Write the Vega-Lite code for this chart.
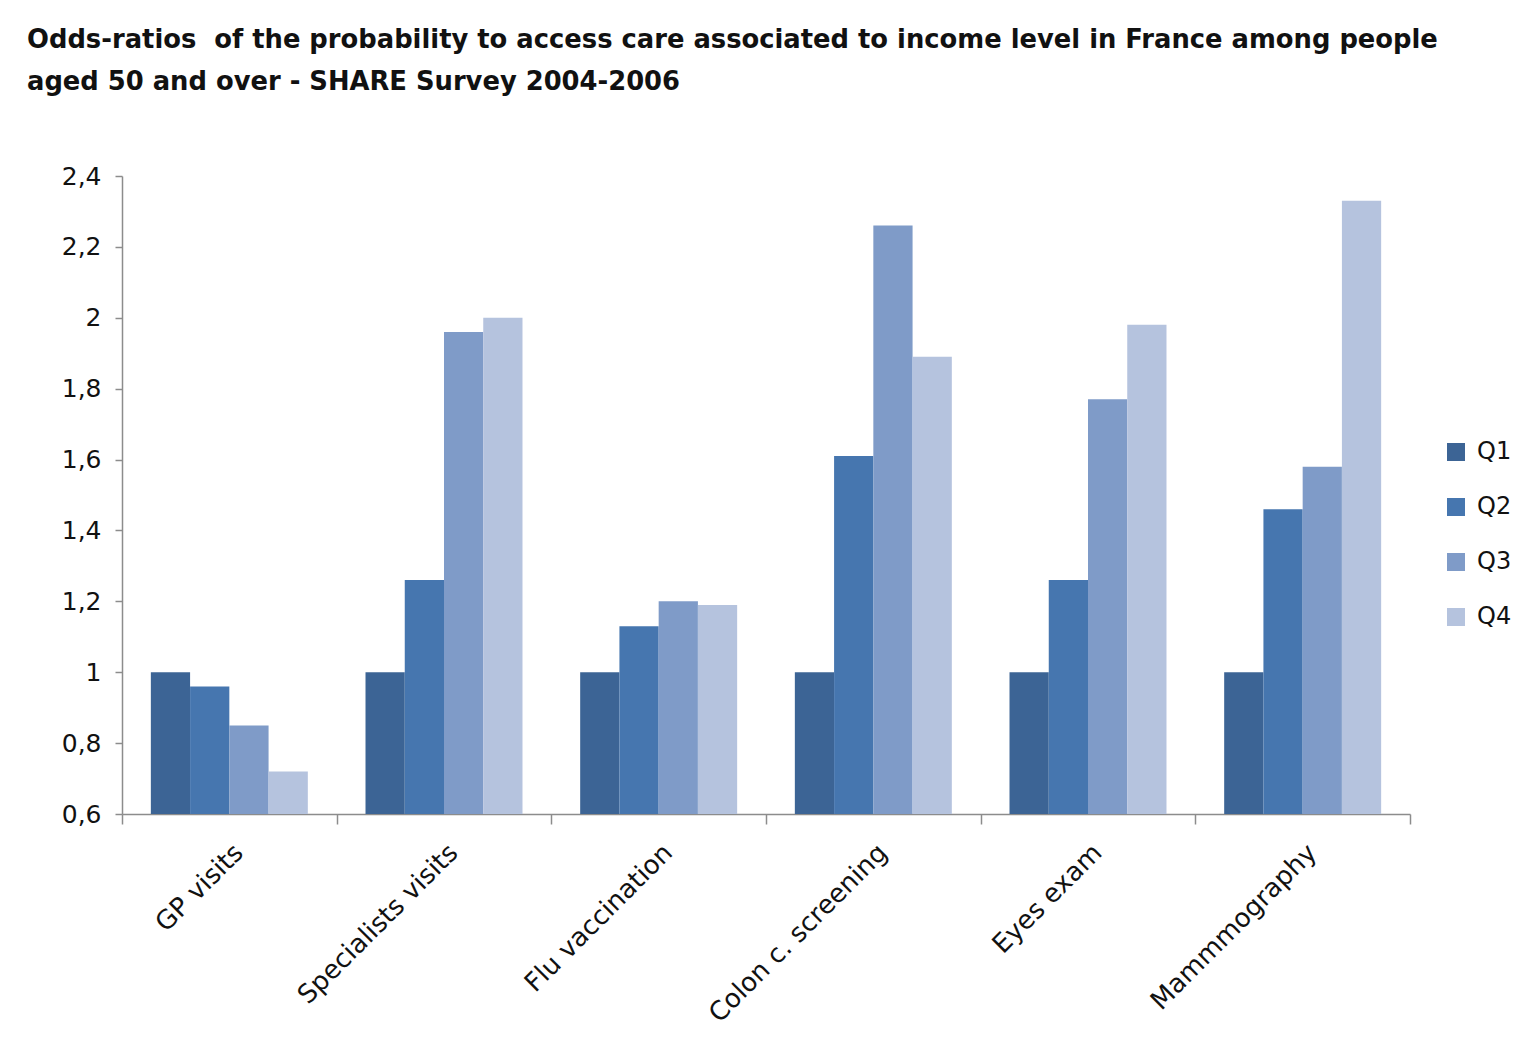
{
  "$schema": "https://vega.github.io/schema/vega-lite/v6.json",
  "width": 1288,
  "height": 638,
  "autosize": {"type": "none"},
  "padding": {"left": 122, "top": 176, "right": 123, "bottom": 247},
  "background": "white",
  "title": {
    "text": [
      "Odds-ratios\u00a0 of the probability to access care associated to income level in France among people",
      "aged 50 and over - SHARE Survey 2004-2006"
    ],
    "anchor": "start",
    "frame": "group",
    "dx": -95,
    "offset": 68,
    "font": "DejaVu Sans",
    "fontSize": 25.8,
    "fontWeight": "bold",
    "lineHeight": 42,
    "color": "#111111"
  },
  "data": {
    "values": [
      {"care": "GP visits", "quartile": "Q1", "or": 1.0},
      {"care": "GP visits", "quartile": "Q2", "or": 0.96},
      {"care": "GP visits", "quartile": "Q3", "or": 0.85},
      {"care": "GP visits", "quartile": "Q4", "or": 0.72},
      {"care": "Specialists visits", "quartile": "Q1", "or": 1.0},
      {"care": "Specialists visits", "quartile": "Q2", "or": 1.26},
      {"care": "Specialists visits", "quartile": "Q3", "or": 1.96},
      {"care": "Specialists visits", "quartile": "Q4", "or": 2.0},
      {"care": "Flu vaccination", "quartile": "Q1", "or": 1.0},
      {"care": "Flu vaccination", "quartile": "Q2", "or": 1.13},
      {"care": "Flu vaccination", "quartile": "Q3", "or": 1.2},
      {"care": "Flu vaccination", "quartile": "Q4", "or": 1.19},
      {"care": "Colon c. screening", "quartile": "Q1", "or": 1.0},
      {"care": "Colon c. screening", "quartile": "Q2", "or": 1.61},
      {"care": "Colon c. screening", "quartile": "Q3", "or": 2.26},
      {"care": "Colon c. screening", "quartile": "Q4", "or": 1.89},
      {"care": "Eyes exam", "quartile": "Q1", "or": 1.0},
      {"care": "Eyes exam", "quartile": "Q2", "or": 1.26},
      {"care": "Eyes exam", "quartile": "Q3", "or": 1.77},
      {"care": "Eyes exam", "quartile": "Q4", "or": 1.98},
      {"care": "Mammmography", "quartile": "Q1", "or": 1.0},
      {"care": "Mammmography", "quartile": "Q2", "or": 1.46},
      {"care": "Mammmography", "quartile": "Q3", "or": 1.58},
      {"care": "Mammmography", "quartile": "Q4", "or": 2.33}
    ]
  },
  "mark": {"type": "bar"},
  "encoding": {
    "x": {
      "field": "care",
      "type": "nominal",
      "sort": null,
      "scale": {"paddingInner": 0, "paddingOuter": 0},
      "axis": {
        "title": null,
        "labelAngle": -45,
        "labelAlign": "right",
        "labelBaseline": "top",
        "labelFont": "DejaVu Sans",
        "labelFontSize": 26,
        "labelColor": "#111111",
        "labelPadding": 15,
        "labelLimit": 0,
        "tickBand": "extent",
        "tickSize": 10,
        "tickColor": "#8c8c8c",
        "domainColor": "#8c8c8c",
        "domainWidth": 1.5,
        "tickWidth": 1.5
      }
    },
    "xOffset": {
      "field": "quartile",
      "type": "nominal",
      "scale": {"paddingInner": 0, "paddingOuter": 0.735}
    },
    "y": {
      "field": "or",
      "type": "quantitative",
      "scale": {"domain": [0.6, 2.4], "zero": false, "nice": false},
      "axis": {
        "title": null,
        "values": [0.6, 0.8, 1, 1.2, 1.4, 1.6, 1.8, 2, 2.2, 2.4],
        "labelExpr": "replace(format(datum.value, '~g'), '.', ',')",
        "labelFont": "DejaVu Sans",
        "labelFontSize": 25,
        "labelColor": "#111111",
        "labelPadding": 14,
        "tickSize": 7,
        "tickColor": "#8c8c8c",
        "domainColor": "#8c8c8c",
        "domainWidth": 1.5,
        "tickWidth": 1.5,
        "grid": false
      }
    },
    "y2": {"datum": 0.6},
    "color": {
      "field": "quartile",
      "type": "nominal",
      "scale": {
        "domain": ["Q1", "Q2", "Q3", "Q4"],
        "range": ["#3c6495", "#4676af", "#7f9bc8", "#b5c3de"]
      },
      "legend": {
        "title": null,
        "orient": "none",
        "legendX": 1322,
        "legendY": 264,
        "symbolType": "square",
        "symbolSize": 324,
        "symbolStrokeWidth": 0,
        "labelFont": "DejaVu Sans",
        "labelFontSize": 24,
        "labelColor": "#111111",
        "labelOffset": 9,
        "rowPadding": 31
      }
    }
  },
  "config": {
    "view": {"stroke": null}
  }
}
